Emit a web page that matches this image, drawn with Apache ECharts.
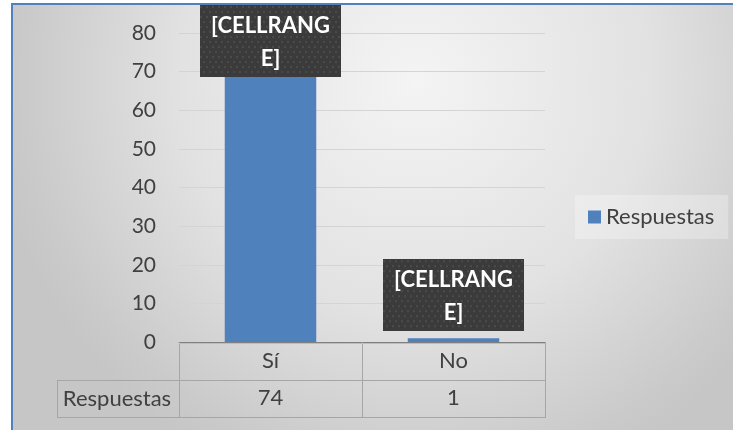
<!DOCTYPE html>
<html>
<head>
<meta charset="utf-8">
<script src="https://cdn.jsdelivr.net/npm/echarts@6/dist/echarts.min.js"></script>
<style>
  html, body { margin: 0; padding: 0; background: #ffffff; }
  #chart { width: 733px; height: 430px; }
</style>
</head>
<body>
<div id="chart"></div>
<script>
// Survey answers
const categories = ['Sí', 'No'];
const seriesName = 'Respuestas';
const values = [74, 1];
const yTicks = [0, 10, 20, 30, 40, 50, 60, 70, 80];
const labelText = '[CELLRANG\nE]';

const FONT = 'Lato, "Open Sans", sans-serif';
const TEXT = '#404040';
const BLUE = '#4f81bd';

// dotted dark texture for the data-label boxes
function makeDotPattern(w, h) {
  const c = document.createElement('canvas');
  c.width = w; c.height = h;
  const g = c.getContext('2d');
  g.fillStyle = '#3b3b3b';
  g.fillRect(0, 0, w, h);
  g.fillStyle = '#505050';
  for (let y = 2, row = 0; y < h; y += 5, row++) {
    for (let x = (row % 2 ? 4 : 1); x < w; x += 6) {
      g.beginPath();
      g.arc(x, y, 1.1, 0, Math.PI * 2);
      g.fill();
    }
  }
  return c;
}

const BOX_W = 141, BOX_H = 72;
const pattern = makeDotPattern(BOX_W, BOX_H);

const chart = echarts.init(document.getElementById('chart'), null, { renderer: 'canvas' });

const option = {
  animation: false,
  textStyle: { fontFamily: FONT },
  grid: { left: 179, right: 188, top: 33, bottom: 88, containLabel: false },
  legend: {
    data: [seriesName],
    left: 575, top: 195,
    orient: 'vertical',
    padding: [11, 14, 11, 13],
    backgroundColor: 'rgba(255,255,255,0.28)',
    itemWidth: 13, itemHeight: 13,
    icon: 'rect',
    textStyle: { fontSize: 22, color: TEXT, fontFamily: FONT }
  },
  xAxis: [
    {
      type: 'category',
      data: categories,
      position: 'bottom',
      axisLine: { show: true, lineStyle: { color: '#7f7f7f', width: 1 } },
      axisTick: { show: true, length: 76, lineStyle: { color: '#a6a6a6', width: 1 } },
      axisLabel: { margin: 8, fontSize: 22, color: TEXT, fontFamily: FONT },
      splitLine: { show: false }
    },
    {
      type: 'category',
      data: values.map(String),
      position: 'bottom',
      offset: 38,
      axisLine: { show: false },
      axisTick: { show: false },
      axisLabel: { margin: 7, fontSize: 22, color: TEXT, fontFamily: FONT },
      splitLine: { show: false }
    }
  ],
  yAxis: {
    type: 'value',
    min: yTicks[0],
    max: yTicks[yTicks.length - 1],
    interval: yTicks[1] - yTicks[0],
    axisLine: { show: false },
    axisTick: { show: false },
    axisLabel: { margin: 23, fontSize: 21, color: TEXT, fontFamily: FONT },
    splitLine: { lineStyle: { color: '#d4d4d4', width: 1 } }
  },
  graphic: [
    {
      type: 'rect', z: -100, silent: true,
      shape: { x: 12, y: 4, width: 721, height: 426 },
      style: {
        fill: {
          type: 'radial', x: 0.56, y: 0.18, r: 1.0,
          colorStops: [
            { offset: 0, color: '#f4f4f4' },
            { offset: 0.55, color: '#e2e2e2' },
            { offset: 0.92, color: '#cacaca' },
            { offset: 1, color: '#c6c6c6' }
          ]
        }
      }
    },
    { type: 'line', z: 50, silent: true, shape: { x1: 12, y1: 4, x2: 733, y2: 4 }, style: { stroke: BLUE, lineWidth: 2 } },
    { type: 'line', z: 50, silent: true, shape: { x1: 12, y1: 3, x2: 12, y2: 430 }, style: { stroke: BLUE, lineWidth: 2 } },
    // data table frame
    { type: 'line', z: 5, silent: true, shape: { x1: 179, y1: 343.5, x2: 545, y2: 343.5 }, style: { stroke: '#bdbdbd', lineWidth: 1 } },
    { type: 'line', z: 5, silent: true, shape: { x1: 57, y1: 380.5, x2: 546, y2: 380.5 }, style: { stroke: '#a6a6a6', lineWidth: 1 } },
    { type: 'line', z: 5, silent: true, shape: { x1: 57, y1: 417.5, x2: 546, y2: 417.5 }, style: { stroke: '#a6a6a6', lineWidth: 1 } },
    { type: 'line', z: 5, silent: true, shape: { x1: 57.5, y1: 380, x2: 57.5, y2: 418 }, style: { stroke: '#a6a6a6', lineWidth: 1 } },
    {
      type: 'text', z: 5, silent: true,
      x: 117, y: 399,
      style: { text: seriesName, fontSize: 22, fill: TEXT, fontFamily: FONT, align: 'center', verticalAlign: 'middle' }
    }
  ],
  series: [
    {
      name: seriesName,
      type: 'bar',
      xAxisIndex: 0,
      barWidth: '50%',
      itemStyle: { color: BLUE },
      data: values,
      label: {
        show: true,
        position: 'top',
        distance: 7,
        formatter: labelText,
        fontFamily: FONT,
        fontWeight: 'bold',
        fontSize: 22,
        color: '#ffffff',
        width: BOX_W,
        height: BOX_H - 6,
        lineHeight: 33,
        align: 'center',
        padding: [4, 0, 2, 0],
        backgroundColor: { image: pattern },
        shadowColor: 'rgba(0,0,0,0.55)',
        shadowBlur: 7,
        shadowOffsetX: 3,
        shadowOffsetY: 3
      }
    }
  ]
};

chart.setOption(option);

// keep data-label boxes inside the chart's top edge
const topLimit = 5;
const adjusted = values.map((v, i) => {
  const py = chart.convertToPixel({ seriesIndex: 0 }, [i, v])[1];
  const boxTop = py - 7 - BOX_H;
  if (boxTop < topLimit) {
    return { value: v, label: { offset: [0, topLimit - boxTop] } };
  }
  return v;
});
chart.setOption({ series: [{ data: adjusted }] });
</script>
</body>
</html>
